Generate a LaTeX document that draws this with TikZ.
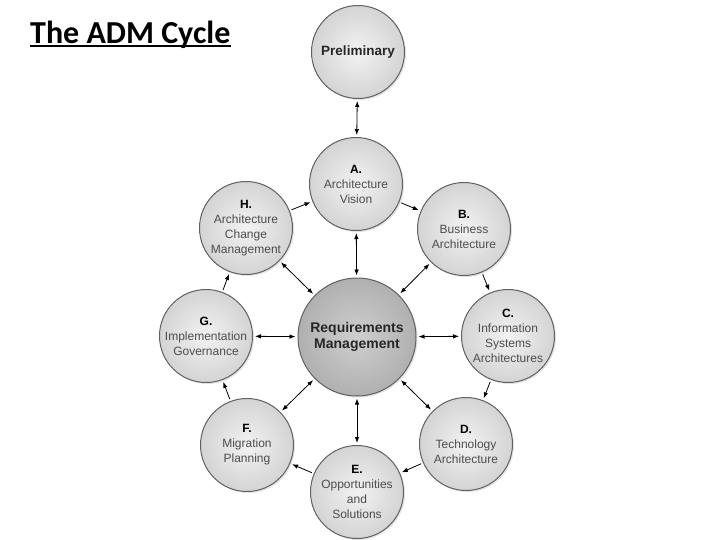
\documentclass[tikz,border=0pt]{standalone}
\usepackage{fontspec}
\setmainfont{Liberation Sans}
\newfontfamily\titlefont{Carlito}
\usepackage{tikz}
\usetikzlibrary{shapes.geometric, arrows, arrows.meta, positioning, shadows}

\begin{document}
\begin{tikzpicture}[
    x=1pt, y=-1pt,
    phase/.style={circle, draw=black!62, line width=1pt, minimum size=93pt, inner sep=0pt, align=center,
        inner color=gray!10, outer color=gray!34, text=black!70,
        drop shadow={opacity=0.22, shadow xshift=1.5pt, shadow yshift=-1.5pt},
        font=\fontsize{12}{15}\selectfont},
    hub/.style={phase, minimum size=118pt, inner color=gray!38, outer color=gray!62, text=black!85,
        font=\bfseries\fontsize{14}{16.5}\selectfont},
    arrow/.style={-{Latex[length=6pt,width=4.5pt]}, line width=0.8pt, shorten >=2pt, shorten <=2pt},
    both/.style={{Latex[length=6pt,width=4.5pt]}-{Latex[length=6pt,width=4.5pt]}, line width=0.8pt, shorten >=2pt, shorten <=2pt}
]
\useasboundingbox (0,0) rectangle (720,540);

% title
\node[anchor=base west, inner sep=0pt, font=\titlefont\bfseries\fontsize{32}{36}\selectfont] (title) at (30,44) {The ADM Cycle};
\draw[line width=2pt] ([yshift=-2.5pt]title.base west) -- ([yshift=-2.5pt]title.base east);

% phases
\node[phase, text=black!85, font=\bfseries\fontsize{13.5}{16}\selectfont] (prelim) at (358,52) {Preliminary};
\node[hub] (req) at (357,337) {Requirements\\Management};
\node[phase] (a) at (356,184) {\textcolor{black}{\textbf{A.}}\\Architecture\\Vision};
\node[phase] (b) at (464,229) {\textcolor{black}{\textbf{B.}}\\Business\\Architecture};
\node[phase] (c) at (508,336) {\textcolor{black}{\textbf{C.}}\\Information\\Systems\\Architectures};
\node[phase] (d) at (466,444) {\textcolor{black}{\textbf{D.}}\\Technology\\Architecture};
\node[phase] (e) at (357,492) {\textcolor{black}{\textbf{E.}}\\Opportunities\\and\\Solutions};
\node[phase] (f) at (247,445) {\textcolor{black}{\textbf{F.}}\\Migration\\Planning};
\node[phase] (g) at (206,336) {\textcolor{black}{\textbf{G.}}\\Implementation\\Governance};
\node[phase] (h) at (246,228) {\textcolor{black}{\textbf{H.}}\\Architecture\\Change\\Management};

% connectors
\draw[both] (prelim) -- (a);
\foreach \n in {a,b,c,d,e,f,g,h}
    \draw[both] (req) -- (\n);
\foreach \s/\t in {a/b,b/c,c/d,d/e,e/f,f/g,g/h,h/a}
    \draw[arrow] (\s) -- (\t);
\end{tikzpicture}
\end{document}
